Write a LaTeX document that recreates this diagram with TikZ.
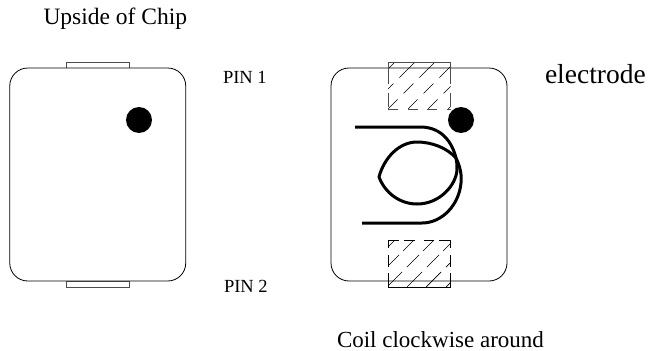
\documentclass[tikz,border=0pt]{standalone}
\usepackage{fontspec}
\setmainfont{Liberation Serif}
\begin{document}
\begin{tikzpicture}[
		x=1pt, y=-1pt,
		every node/.style = {inner sep=0pt, outer sep=0pt},
		chip/.style = {draw, line width=0.8pt, fill=white, rounded corners=18pt,
			minimum width=176pt, minimum height=213pt},
		tab/.style = {draw=black!70, line width=0.8pt, fill=white,
			minimum width=63pt, minimum height=6pt},
		dot/.style = {shape=circle, fill=black, minimum size=26pt},
		coil/.style = {line width=3pt, line join=round},
		upperdash/.style = {dash pattern=on 22pt off 8.5pt on 14pt off 8.5pt on 13pt},
		lowerdash/.style = {dash pattern=on 15.5pt off 5.7pt on 17pt off 7pt on 21pt},
		hatch/.style = {line width=0.7pt},
		caption/.style = {anchor=base west, font=\fontsize{23.5}{25}\selectfont},
		pin/.style = {anchor=base west, font=\fontsize{18.5}{20}\selectfont},
		]
		\useasboundingbox (0,0) rectangle (649,351);

		% left chip
		\node[tab] (toptab) at (97.5,65) {};
		\node[tab] (bottomtab) at (97.5,284.3) {};
		\node[chip] (leftchip) at (97.75,174.5) {};
		\node[dot] (leftdot) at (139,120) {};

		% right chip
		\node[chip] (rightchip) at (419,174.5) {};
		\node[dot] (rightdot) at (461,120) {};

		% upper electrode
		\coordinate (ua) at (388,62);
		\coordinate (ub) at (450.5,62);
		\coordinate (uc) at (450.5,109);
		\coordinate (ud) at (388,109);
		\begin{scope}
			\clip (ua) rectangle (uc);
			\foreach \c in {457,477,497,517,537,557}
				\draw[hatch, upperdash] (\c-62,62) -- (\c-109,109);
		\end{scope}
		\draw[black!70, line width=0.9pt] (ua) -- (ub);
		\draw[black!70, line width=0.9pt, upperdash] (ua) -- (ud);
		\draw[black!70, line width=0.9pt, upperdash] (ub) -- (uc);
		\draw[black!70, line width=1pt, dash pattern=on 10pt off 9.5pt] (ud) -- (uc);

		% lower electrode
		\coordinate (la) at (388,240);
		\coordinate (lb) at (450.5,240);
		\coordinate (lc) at (450.5,287);
		\coordinate (ld) at (388,287);
		\begin{scope}
			\clip (la) rectangle (lc);
			\foreach \c in {635,654,674,694,713,733}
				\draw[hatch, lowerdash] (\c-240,240) -- (\c-287,287);
		\end{scope}
		\draw[line width=0.9pt, dash pattern=on 10.5pt off 5pt on 11pt off 9pt] (la) -- (lb);
		\draw[line width=0.9pt, dash pattern=on 8pt off 7pt on 12pt off 6pt on 14pt] (la) -- (ld);
		\draw[line width=0.9pt, dash pattern=on 8pt off 7pt on 12pt off 6pt on 14pt] (lb) -- (lc);
		\draw[line width=0.9pt] (ld) -- (lc);

		% coil
		\draw[coil] (355,127) -- (422,127)
			.. controls (442,128) and (452,142) .. (456,158)
			.. controls (460,166) and (462,175) .. (461,183)
			.. controls (459,205) and (442,223) .. (422,223)
			-- (362,223);
		\draw[coil] (456,158)
			.. controls (447,148) and (432,142) .. (417,142)
			.. controls (399,142) and (384,158) .. (379,177)
			.. controls (385,193) and (400,204) .. (417,204)
			.. controls (440,204) and (456,185) .. (457,170)
			.. controls (457,165) and (457,162) .. (456,158);

		% labels
		\node[caption] (title) at (43.5,24) {Upside of Chip};
		\node[pin] (pinone) at (223,83) {PIN 1};
		\node[pin] (pintwo) at (224,292) {PIN 2};
		\node[caption, font=\fontsize{27.5}{30}\selectfont] (electrode) at (545,83) {electrode};
		\node[caption, font=\fontsize{23}{25}\selectfont] (coiltext) at (337,347) {Coil clockwise around};
	\end{tikzpicture}
\end{document}
